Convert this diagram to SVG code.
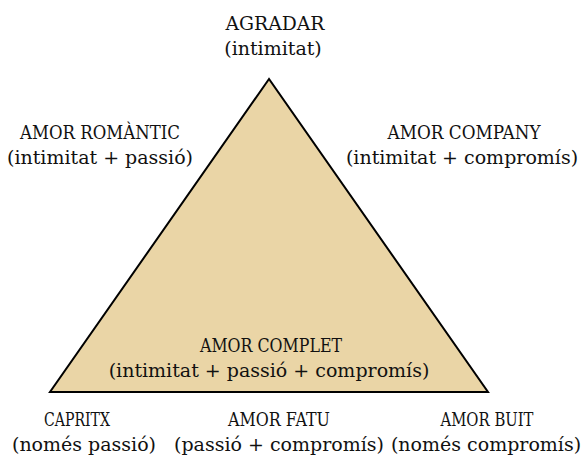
<svg xmlns="http://www.w3.org/2000/svg" width="586" height="463" viewBox="0 0 586 463">
<style>
text{font-family:"DejaVu Serif","Liberation Serif",serif;font-size:19px;fill:#111;text-anchor:middle}
.c{font-size:18px}
</style>
<rect width="586" height="463" fill="#fff"/>
<g id="triangle"><polygon points="269,79 50,392 488,392" fill="#ead5a6" stroke="#000" stroke-width="2"/></g>
<g id="agradar"><text class="c" x="275" y="30" textLength="99" lengthAdjust="spacingAndGlyphs">AGRADAR</text><text x="273" y="55">(intimitat)</text></g>
<g id="romantic"><text class="c" x="100" y="139" textLength="160" lengthAdjust="spacingAndGlyphs">AMOR ROMÀNTIC</text><text x="100" y="164">(intimitat + passió)</text></g>
<g id="company"><text class="c" x="464" y="139" textLength="153" lengthAdjust="spacingAndGlyphs">AMOR COMPANY</text><text x="462" y="164">(intimitat + compromís)</text></g>
<g id="complet"><text class="c" x="271" y="352" textLength="142" lengthAdjust="spacingAndGlyphs">AMOR COMPLET</text><text x="269" y="377">(intimitat + passió + compromís)</text></g>
<g id="capritx"><text class="c" x="77" y="426" textLength="66" lengthAdjust="spacingAndGlyphs">CAPRITX</text><text x="84" y="451">(només passió)</text></g>
<g id="fatu"><text class="c" x="279" y="426" textLength="102" lengthAdjust="spacingAndGlyphs">AMOR FATU</text><text x="279" y="451">(passió + compromís)</text></g>
<g id="buit"><text class="c" x="487" y="426" textLength="93" lengthAdjust="spacingAndGlyphs">AMOR BUIT</text><text x="486" y="451">(només compromís)</text></g>
</svg>
